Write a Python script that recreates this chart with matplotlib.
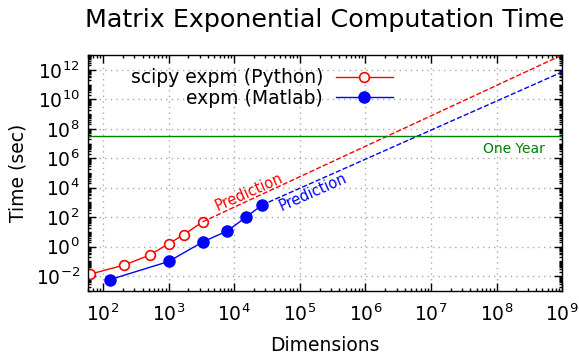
import numpy as np
import matplotlib
matplotlib.use("Agg")
import matplotlib.pyplot as plt
from matplotlib.ticker import FixedLocator, LogLocator, NullFormatter

py_dims = [64, 210, 512, 1000, 1700, 3300]
py_time = [0.014, 0.057, 0.27, 1.6, 6.5, 49]

ml_dims = [128, 1000, 3300, 7900, 15200, 26400]
ml_time = [0.0059, 0.10, 2.1, 12, 102, 665]

# extrapolated fits (start at last measurement, end at 1e9)
py_pred_dims = [3300, 1e9]
py_pred_time = [49, 1.0e13]
ml_pred_dims = [26400, 1e9]
ml_pred_time = [665, 7.0e11]

one_year = 3.15e7

x_major = [1e2, 1e3, 1e4, 1e5, 1e6, 1e7, 1e8, 1e9]
y_major = [1e-2, 1e0, 1e2, 1e4, 1e6, 1e8, 1e10, 1e12]

plt.rcParams['font.family'] = ['DejaVu Sans']
plt.rcParams['axes.unicode_minus'] = False

fig = plt.figure(figsize=(5.79, 3.6), dpi=100)
ax = fig.add_axes([0.152, 0.1917, 0.8188, 0.6555])

ax.plot(py_dims, py_time, '-o', color='red', lw=1, ms=7, mfc='white',
        mec='red', mew=1.2, label='scipy expm (Python)')
ax.plot(ml_dims, ml_time, '-o', color='blue', lw=1, ms=8,
        label='expm (Matlab)')
ax.plot(py_pred_dims, py_pred_time, '--', color='red', lw=1)
ax.plot(ml_pred_dims, ml_pred_time, '--', color='blue', lw=1)
ax.axhline(one_year, color='green', lw=1)

ax.text(5.5e8, 1.3e7, 'One Year', color='green', fontsize=10,
        ha='right', va='top')
ax.text(1.66e4, 5.1e3, 'Prediction', color='red', fontsize=10.5,
        ha='center', va='center', rotation=24, rotation_mode='anchor')
ax.text(1.6e5, 5.1e3, 'Prediction', color='blue', fontsize=10.5,
        ha='center', va='center', rotation=24, rotation_mode='anchor')

ax.set_xscale('log')
ax.set_yscale('log')
ax.set_xlim(59, 1e9)
ax.set_ylim(1e-3, 1e13)

ax.xaxis.set_major_locator(FixedLocator(x_major))
ax.yaxis.set_major_locator(FixedLocator(y_major))
ax.xaxis.set_minor_locator(LogLocator(base=10, subs=np.arange(2, 10), numticks=20))
ax.yaxis.set_minor_locator(LogLocator(base=10, subs=np.arange(1, 10), numticks=40))
ax.xaxis.set_minor_formatter(NullFormatter())
ax.yaxis.set_minor_formatter(NullFormatter())

ax.tick_params(which='both', direction='in', top=True, right=True,
               labelsize=13.5, width=1)
ax.tick_params(which='major', length=5.5)
ax.tick_params(which='minor', length=2.5)
ax.tick_params(axis='x', which='major', pad=9)
ax.tick_params(axis='y', which='major', pad=6)
for s in ax.spines.values():
    s.set_linewidth(1)

ax.grid(True, which='major', color='#aaaaaa', linestyle=(0, (1, 3)), linewidth=1)

ax.set_xlabel('Dimensions', fontsize=13.5, labelpad=8)
ax.set_ylabel('Time (sec)', fontsize=13.5, labelpad=6)
ax.set_title('Matrix Exponential Computation Time', fontsize=18.3, pad=20)

ax.legend(loc='upper right', bbox_to_anchor=(0.67, 1.0), frameon=False,
          markerfirst=False, fontsize=13.5, handlelength=3.0, numpoints=1,
          labelspacing=0.1, borderaxespad=0.3, handletextpad=0.7)

fig.savefig('out.png', dpi=100)
